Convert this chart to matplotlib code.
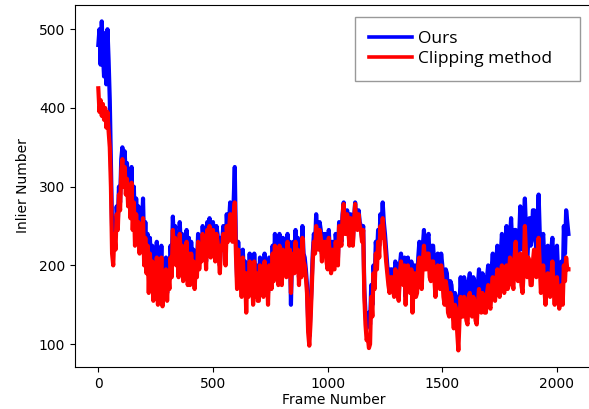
import numpy as np
import matplotlib.pyplot as plt

# frames sampled every 5
frames = np.arange(0, 2055, 5)

ours = [
    480, 500, 455, 510, 470, 440, 495, 430, 500, 460,
    410, 330, 250, 230, 260, 240, 275, 255, 300, 280,
    335, 350, 320, 345, 310, 330, 295, 315, 280, 325,
    265, 300, 245, 285, 255, 275, 235, 270, 250, 285,
    220, 255, 215, 240, 190, 235, 200, 225, 175, 215,
    195, 230, 165, 215, 185, 225, 160, 205, 190, 210,
    165, 200, 185, 225, 200, 262, 230, 250, 215, 240,
    200, 255, 225, 240, 195, 230, 210, 245, 190, 235,
    185, 230, 200, 220, 175, 210, 195, 240, 205, 225,
    215, 250, 230, 240, 205, 255, 230, 260, 220, 245,
    255, 230, 215, 250, 240, 225, 200, 235, 230, 250,
    245, 210, 265, 240, 255, 280, 265, 240, 280, 325,
    230, 185, 230, 200, 215, 175, 220, 190, 205, 165,
    200, 170, 215, 180, 205, 165, 215, 175, 200, 170,
    165, 210, 180, 200, 175, 215, 195, 205, 165, 210,
    205, 180, 225, 190, 240, 200, 215, 185, 240, 205,
    185, 235, 200, 225, 195, 240, 215, 230, 150, 220,
    230, 200, 245, 210, 235, 185, 225, 200, 250, 215,
    210, 195, 175, 130, 110, 140, 175, 215, 240, 225,
    265, 235, 230, 255, 245, 215, 240, 225, 240, 215,
    205, 245, 215, 195, 230, 205, 200, 240, 225, 210,
    255, 240, 230, 265, 280, 245, 245, 270, 250, 230,
    265, 245, 230, 260, 280, 255, 250, 270, 255, 250,
    235, 250, 170, 140, 120, 135, 140, 125, 175, 150,
    200, 180, 230, 210, 245, 225, 265, 250, 280, 255,
    240, 220, 200, 185, 175, 195, 195, 180, 170, 205,
    200, 175, 160, 200, 215, 190, 185, 210, 160, 195,
    210, 180, 175, 205, 150, 185, 200, 170, 175, 210,
    230, 195, 185, 225, 245, 210, 215, 235, 240, 205,
    195, 225, 225, 200, 175, 205, 215, 190, 185, 215,
    200, 175, 170, 195, 190, 160, 150, 180, 175, 155,
    140, 165, 160, 135, 125, 150, 185, 155, 160, 185,
    175, 150, 145, 180, 190, 165, 160, 185, 180, 155,
    150, 175, 195, 170, 165, 190, 185, 160, 160, 185,
    200, 170, 165, 195, 215, 185, 175, 205, 225, 195,
    180, 215, 240, 205, 195, 225, 250, 215, 200, 235,
    260, 225, 210, 245, 245, 210, 195, 235, 275, 240,
    220, 255, 285, 245, 200, 235, 260, 225, 235, 270,
    270, 235, 220, 255, 290, 240, 195, 230, 240, 205,
    175, 215, 225, 190, 185, 220, 235, 200, 170, 205,
    225, 190, 160, 200, 205, 175, 250, 215, 270, 255,
    240,
]

clipping = [
    425, 395, 410, 390, 405, 385, 400, 375, 395, 370,
    350, 300, 215, 200, 240, 220, 265, 245, 290, 270,
    320, 335, 300, 325, 290, 310, 275, 300, 260, 305,
    245, 280, 225, 265, 235, 255, 215, 250, 230, 260,
    200, 235, 190, 225, 165, 215, 180, 205, 155, 200,
    175, 210, 150, 195, 170, 210, 148, 190, 175, 195,
    155, 190, 170, 210, 185, 245, 210, 235, 200, 225,
    185, 240, 205, 225, 180, 215, 190, 230, 175, 215,
    175, 215, 190, 205, 170, 200, 185, 230, 195, 215,
    205, 240, 215, 230, 195, 245, 220, 250, 210, 235,
    245, 220, 205, 240, 230, 215, 190, 225, 220, 240,
    235, 200, 250, 230, 245, 265, 250, 230, 265, 280,
    215, 170, 220, 185, 200, 160, 210, 175, 190, 140,
    190, 160, 205, 165, 195, 150, 205, 160, 190, 155,
    155, 200, 165, 190, 160, 205, 180, 195, 150, 200,
    195, 170, 215, 180, 225, 185, 205, 175, 225, 195,
    175, 220, 190, 215, 185, 230, 200, 220, 165, 210,
    215, 190, 230, 195, 220, 175, 215, 185, 235, 205,
    200, 185, 165, 115, 98, 125, 165, 205, 230, 215,
    250, 225, 220, 245, 235, 205, 230, 215, 230, 205,
    195, 235, 205, 190, 220, 195, 195, 230, 215, 200,
    250, 235, 225, 260, 278, 240, 240, 265, 245, 225,
    260, 240, 225, 255, 278, 250, 245, 265, 250, 245,
    230, 245, 160, 125, 105, 110, 95, 100, 160, 135,
    190, 170, 215, 195, 230, 210, 250, 235, 260, 240,
    225, 205, 190, 175, 165, 185, 185, 170, 160, 195,
    190, 165, 155, 190, 205, 180, 175, 200, 150, 185,
    200, 170, 165, 195, 140, 175, 190, 160, 165, 200,
    210, 180, 170, 205, 225, 195, 195, 215, 215, 185,
    180, 205, 205, 185, 160, 190, 200, 175, 170, 200,
    185, 160, 150, 180, 170, 140, 135, 165, 160, 140,
    120, 150, 145, 115, 92, 130, 160, 135, 135, 160,
    150, 130, 125, 160, 165, 140, 135, 160, 155, 130,
    125, 150, 170, 145, 140, 165, 160, 140, 140, 165,
    175, 150, 145, 170, 185, 160, 155, 180, 195, 170,
    160, 190, 200, 175, 165, 195, 200, 170, 175, 210,
    205, 180, 170, 210, 230, 195, 180, 210, 215, 175,
    165, 195, 250, 215, 185, 210, 200, 175, 175, 205,
    220, 195, 185, 215, 235, 200, 165, 190, 200, 170,
    150, 180, 190, 165, 160, 185, 205, 175, 150, 180,
    185, 160, 145, 170, 175, 150, 200, 180, 210, 195,
    195,
]

fig = plt.figure(figsize=(5.89, 4.09), dpi=100)
ax = fig.add_axes([0.127, 0.103, 0.878, 0.885])

ax.plot(frames, ours, color='blue', lw=3.0, label='Ours')
ax.plot(frames, clipping, color='red', lw=3.0, label='Clipping method')

ax.set_xlabel('Frame Number', fontsize=10, labelpad=2)
ax.set_ylabel('Inlier Number', fontsize=10, labelpad=6)
ax.tick_params(labelsize=10)
ax.set_xticks([0, 500, 1000, 1500, 2000])
ax.set_yticks([100, 200, 300, 400, 500])
ax.spines['right'].set_visible(False)

# legend box stretched to the reference width
leg = ax.legend(loc='upper left', bbox_to_anchor=(0.5416, 0.5, 0.435, 0.467),
                mode='expand', borderaxespad=0,
                prop={'family': 'Open Sans', 'size': 12.5},
                fancybox=False, edgecolor='gray', borderpad=0.8,
                handlelength=2.5, handletextpad=0.35, labelspacing=0.25)
leg.get_frame().set_linewidth(1.0)
for line in leg.get_lines():
    line.set_linewidth(2.6)

fig.savefig('out.png', dpi=100)
